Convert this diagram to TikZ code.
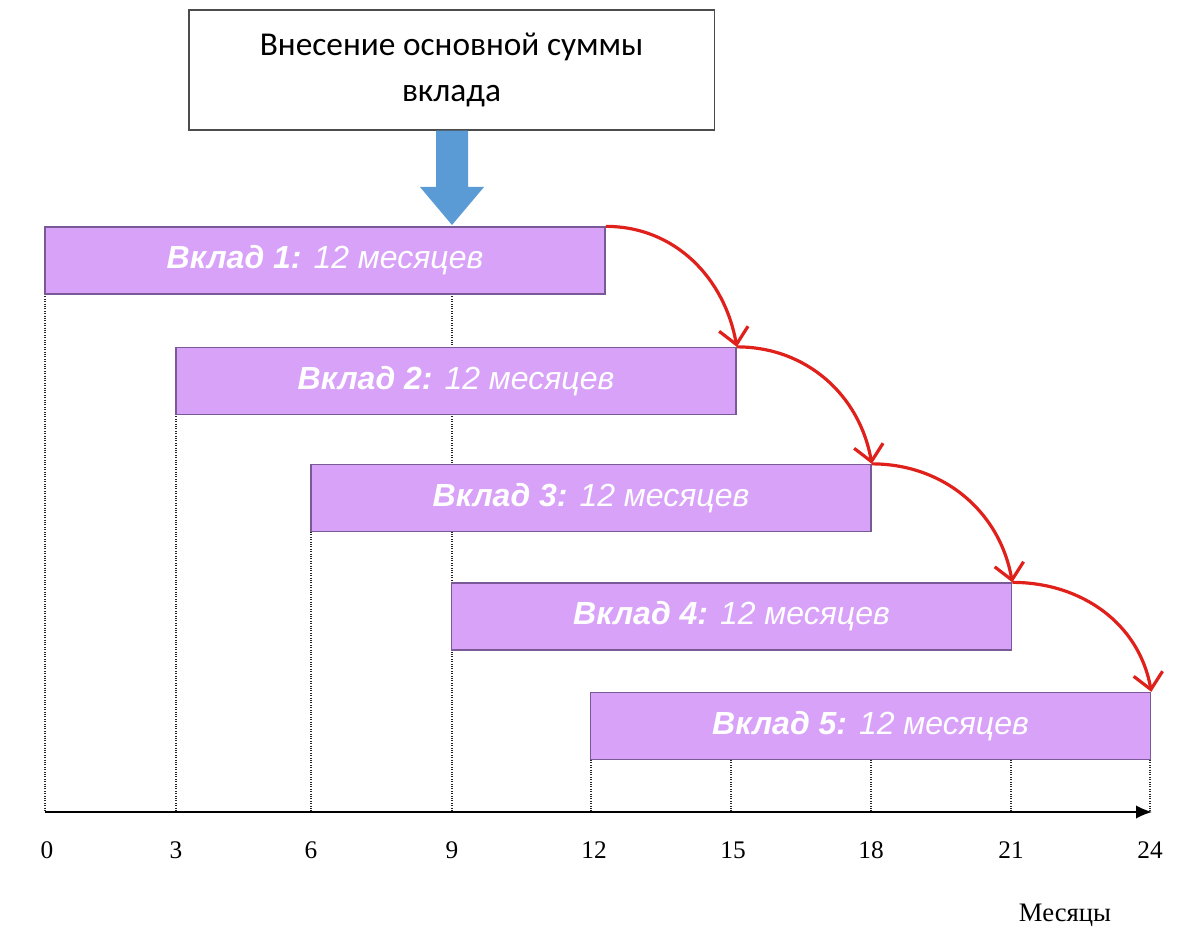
\documentclass[tikz,border=0pt]{standalone}
\usepackage{fontspec}
\setmainfont{Liberation Serif}
\newfontfamily\arial{Liberation Sans}
\newfontfamily\carl{Carlito}
\usetikzlibrary{arrows.meta}
\definecolor{barfill}{HTML}{D9A2F9}
\definecolor{bardraw}{HTML}{7A5A96}
\definecolor{bluearr}{HTML}{5B9BD5}
\definecolor{redarr}{HTML}{E0201A}
\tikzset{
 bar/.style={draw=bardraw,line width=1.2pt,fill=barfill,minimum width=420pt,minimum height=50pt,inner sep=0pt,
   font=\arial\fontsize{24}{28}\selectfont\itshape,text=white},
 guide/.style={densely dotted,black!85,line width=0.8pt},
 jump/.style={redarr,line width=2.4pt,-{Straight Barb[length=12pt,width=22pt,line width=2.4pt]}},
 tick/.style={font=\fontsize{19}{22}\selectfont}
}
\begin{document}
\begin{tikzpicture}[x=0.75pt,y=-0.75pt]
\useasboundingbox (0,0) rectangle (1200,945);
% guides
\foreach \x/\y in {45/294,176/414,311/532,452/294,591/760,731/760,871/760,1011/760,1150/760}
  \draw[guide] (\x,\y) -- (\x,812);
% axis
\coordinate (ax0) at (45,812);
\coordinate (ax1) at (1152,812);
\draw[line width=1.2pt,-{Latex[length=12pt,width=10pt]}] (ax0) -- (ax1);
\foreach \v/\x [count=\i] in {0/47,3/176,6/311,9/452,12/594,15/733,18/871,21/1011,24/1150}
  \node[tick] (t\i) at (\x,850) {\v};
\node[tick,font=\fontsize{20}{22}\selectfont] (mes) at (1065,915) {Месяцы};
% top box
\node[draw=black!70,line width=1pt,minimum width=394pt,minimum height=90pt,align=center,
  font=\carl\fontsize{25}{35}\selectfont] (top) at (451.5,70) {Внесение основной суммы\\вклада};
% bars
\node[bar] (b1) at (325,260.5) {\raisebox{-2pt}{\textbf{Вклад 1:} 12 месяцев}};
\node[bar] (b2) at (456,381) {\raisebox{-2pt}{\textbf{Вклад 2:} 12 месяцев}};
\node[bar] (b3) at (591,498) {\raisebox{-2pt}{\textbf{Вклад 3:} 12 месяцев}};
\node[bar] (b4) at (731.5,616.5) {\raisebox{-2pt}{\textbf{Вклад 4:} 12 месяцев}};
\node[bar] (b5) at (870.5,726) {\raisebox{-2pt}{\textbf{Вклад 5:} 12 месяцев}};
% blue arrow
\fill[bluearr] (top.south -| 436,0) -- (436,187) -- (420,187) -- (452,225) -- (484,187) -- (468,187) -- (top.south -| 468,0) -- cycle;
% red arrows
\draw[jump] (b1.north east) to[out=0,in=100] (b2.north east);
\draw[jump] (b2.north east) to[out=0,in=100] (b3.north east);
\draw[jump] (b3.north east) to[out=0,in=100] (b4.north east);
\draw[jump] (b4.north east) to[out=0,in=100] (b5.north east);
\end{tikzpicture}
\end{document}
